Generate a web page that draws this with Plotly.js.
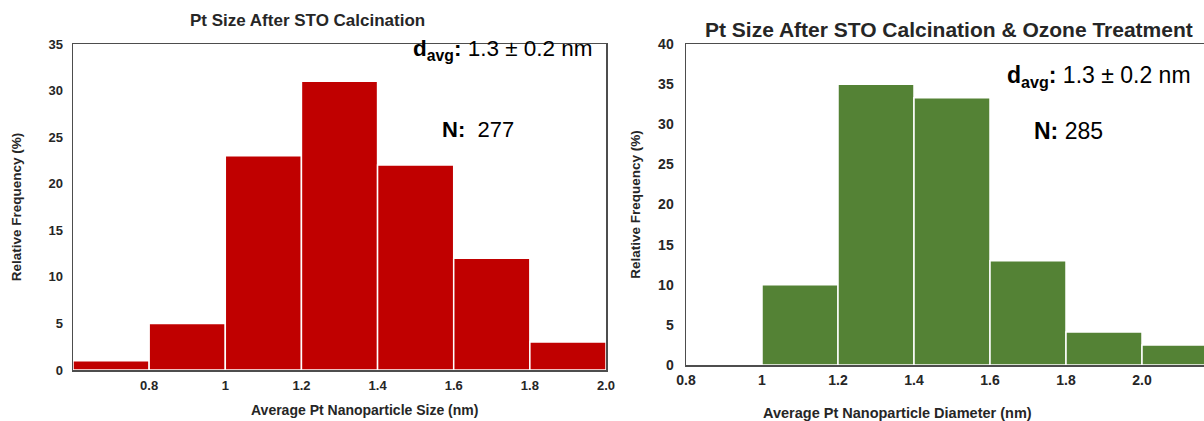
<!DOCTYPE html>
<html>
<head>
<meta charset="utf-8">
<script src="https://cdn.plot.ly/plotly-3.0.1.min.js"></script>
<style>html,body{margin:0;padding:0;background:#fff;}#chart{width:1204px;height:421px;}</style>
</head>
<body>
<div id="chart"></div>
<script>
// Data
const binLeftEdgesA = [0.6, 0.8, 1.0, 1.2, 1.4, 1.6, 1.8];
const freqA = [1, 5, 23, 31, 22, 12, 3];
const binLeftEdgesB = [0.8, 1.0, 1.2, 1.4, 1.6, 1.8, 2.0];
const freqB = [0, 10, 35, 33.3, 13, 4.1, 2.5];
const tickValsA = [0.8, 1.0, 1.2, 1.4, 1.6, 1.8, 2.0];
const tickTextA = ["0.8", "1", "1.2", "1.4", "1.6", "1.8", "2.0"];
const tickValsB = [0.8, 1.0, 1.2, 1.4, 1.6, 1.8, 2.0];
const tickTextB = ["0.8", "1", "1.2", "1.4", "1.6", "1.8", "2.0"];
const yTicksA = [0, 5, 10, 15, 20, 25, 30, 35];
const yTicksB = [0, 5, 10, 15, 20, 25, 30, 35, 40];
const titleA = "Pt Size After STO Calcination";
const titleB = "Pt Size After STO Calcination & Ozone Treatment";
const xTitleA = "Average Pt Nanoparticle Size (nm)";
const xTitleB = "Average Pt Nanoparticle Diameter (nm)";
const yTitle = "Relative Frequency (%)";
const statsA = {d: "1.3 ± 0.2 nm", n: "277"};
const statsB = {d: "1.3 ± 0.2 nm", n: "285"};
const binWidth = 0.2;

const W = 1204, H = 421;
const px = v => v / W;
const py = v => 1 - v / H;
const FONT = "Liberation Sans, Arial, sans-serif";
const axisColor = "#4d4d4d";
const txt = "#262626";

const traces = [
  {type: "bar", x: binLeftEdgesA, y: freqA, width: binWidth, offset: 0,
   marker: {color: "#C00000", line: {color: "#ffffff", width: 1.5}},
   xaxis: "x", yaxis: "y", hoverinfo: "x+y", showlegend: false},
  {type: "bar", x: binLeftEdgesB, y: freqB, width: binWidth, offset: 0,
   marker: {color: "#548235", line: {color: "#ffffff", width: 1.5}},
   xaxis: "x2", yaxis: "y2", hoverinfo: "x+y", showlegend: false}
];

const tickFontA = {family: FONT, size: 13, color: txt, weight: "bold"};
const tickFontB = {family: FONT, size: 14, color: txt, weight: "bold"};
const yTitleFont = {family: FONT, size: 13.5, color: txt, weight: "bold"};

const layout = {
  width: W, height: H,
  margin: {l: 0, r: 0, t: 0, b: 0},
  paper_bgcolor: "#fff", plot_bgcolor: "#fff",
  showlegend: false,
  xaxis: {
    domain: [px(73), px(606)], range: [0.6, 2.0], anchor: "y",
    tickvals: tickValsA, ticktext: tickTextA, ticks: "", showgrid: false, zeroline: false,
    showline: true, linecolor: axisColor, linewidth: 1.5, mirror: true,
    tickfont: tickFontA, fixedrange: true, ticklabelstandoff: 3
  },
  yaxis: {
    domain: [py(370), py(44)], range: [0, 35], anchor: "x",
    tickvals: yTicksA, ticks: "", showgrid: false, zeroline: false,
    showline: true, linecolor: axisColor, linewidth: 1.5, mirror: true,
    tickfont: tickFontA, fixedrange: true, ticklabelstandoff: 6,
    title: {text: yTitle, font: yTitleFont, standoff: 23}
  },
  xaxis2: {
    domain: [px(686), 1], range: [0.8, 0.8 + (W - 686) / 76 * 0.2], anchor: "y2",
    tickvals: tickValsB, ticktext: tickTextB, ticks: "", showgrid: false, zeroline: false,
    showline: true, linecolor: axisColor, linewidth: 1.5, mirror: true,
    tickfont: tickFontB, fixedrange: true, ticklabelstandoff: 2
  },
  yaxis2: {
    domain: [py(365), py(44)], range: [0, 40], anchor: "x2",
    tickvals: yTicksB, ticks: "", showgrid: false, zeroline: false,
    showline: true, linecolor: axisColor, linewidth: 1.5, mirror: false,
    tickfont: tickFontB, fixedrange: true, ticklabelstandoff: 8,
    title: {text: yTitle, font: yTitleFont, standoff: 14}
  },
  annotations: [
    {xref: "paper", yref: "paper", x: px(307), y: py(20), xanchor: "center", yanchor: "middle",
     text: "<b>" + titleA + "</b>", showarrow: false,
     font: {family: FONT, size: 17, color: txt}},
    {xref: "paper", yref: "paper", x: px(949), y: py(29), xanchor: "center", yanchor: "middle",
     text: "<b>" + titleB.replace("&", "&amp;") + "</b>", showarrow: false,
     font: {family: FONT, size: 21, color: txt}},
    {xref: "paper", yref: "paper", x: px(364), y: py(410), xanchor: "center", yanchor: "middle",
     text: "<b>" + xTitleA + "</b>", showarrow: false,
     font: {family: FONT, size: 14, color: txt}},
    {xref: "paper", yref: "paper", x: px(898), y: py(413), xanchor: "center", yanchor: "middle",
     text: "<b>" + xTitleB + "</b>", showarrow: false,
     font: {family: FONT, size: 14.5, color: txt}},
    {xref: "paper", yref: "paper", x: px(595), y: py(50), xanchor: "right", yanchor: "middle",
     text: "<b>d<sub>avg</sub>:</b> " + statsA.d, showarrow: false,
     font: {family: FONT, size: 22.5, color: "#000"}},
    {xref: "paper", yref: "paper", x: px(440), y: py(130), xanchor: "left", yanchor: "middle",
     text: "<b>N:</b>\u00A0\u00A0" + statsA.n, showarrow: false,
     font: {family: FONT, size: 22, color: "#000"}},
    {xref: "paper", yref: "paper", x: px(1193), y: py(77), xanchor: "right", yanchor: "middle",
     text: "<b>d<sub>avg</sub>:</b> " + statsB.d, showarrow: false,
     font: {family: FONT, size: 23, color: "#000"}},
    {xref: "paper", yref: "paper", x: px(1032), y: py(131), xanchor: "left", yanchor: "middle",
     text: "<b>N:</b> " + statsB.n, showarrow: false,
     font: {family: FONT, size: 23, color: "#000"}}
  ]
};

Plotly.newPlot("chart", traces, layout, {displayModeBar: false, staticPlot: true});
</script>
</body>
</html>
